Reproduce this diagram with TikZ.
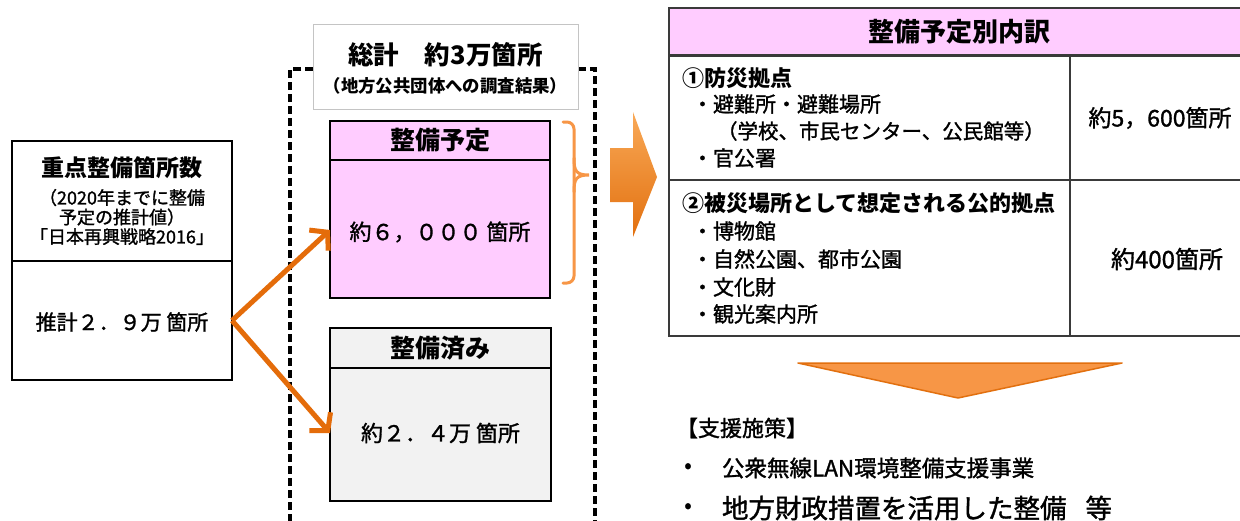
\documentclass[tikz,border=0pt]{standalone}
\usepackage{fontspec}
\setmainfont{Noto Sans CJK JP}
\newfontfamily\medfont{Noto Sans CJK JP}[FakeBold=1.3]
\usetikzlibrary{arrows.meta}
\definecolor{orA}{HTML}{E46C0A}
\definecolor{orB}{HTML}{F79646}
\definecolor{orL}{HTML}{F9A957}
\definecolor{orD}{HTML}{E2700F}
\definecolor{pinkF}{HTML}{FFCCFF}
\definecolor{grayF}{HTML}{F2F2F2}
\definecolor{tblLine}{HTML}{3A3A3A}
\definecolor{titleGray}{HTML}{C4C4C4}
\newcommand\fsz[2]{\fontsize{#1pt}{#2pt}\selectfont}
\begin{document}
\begin{tikzpicture}[x=1pt,y=-1pt,
  box/.style={draw=black,line width=2.6pt,anchor=north west,inner sep=0pt,outer sep=0pt},
  lbox/.style={draw=black,line width=2pt,anchor=north west,inner sep=0pt,outer sep=0pt},
  tcell/.style={draw=tblLine,line width=1.6pt,anchor=north west,inner sep=0pt,outer sep=0pt},
  txt/.style={inner sep=0pt,outer sep=0pt},
  ltxt/.style={inner sep=0pt,outer sep=0pt,anchor=west},
  dashframe/.style={draw=black,line width=3.2pt,dash pattern=on 8pt off 4pt},
  orarrow/.style={draw=orA,line width=5pt,-{Straight Barb[length=12pt,width=28pt]}},
  bracestyle/.style={draw=orB,line width=3pt,line cap=round},
]
\useasboundingbox (0,0) rectangle (1240,520);
\clip (0,0) rectangle (1240,520);
\fill[white] (0,0) rectangle (1240,520);

% dashed frame
\draw[dashframe] (313,69) -- (290,69) -- (290,530);
\draw[dashframe] (578,69) -- (595,69) -- (595,530);

% title box
\node[draw=titleGray,line width=1pt,fill=white,anchor=north west,inner sep=0pt,minimum width=265,minimum height=85] (title) at (313,24) {};
\node[txt,font=\fsz{25.5}{29}\bfseries] (t1) at (445.5,55) {総計　約3万箇所};
\node[txt,font=\fsz{17.4}{20}\bfseries] (t2) at (445.5,86) {（地方公共団体への調査結果）};

% left box
\node[lbox,minimum width=220,minimum height=120] (lt) at (12,141) {};
\node[lbox,minimum width=220,minimum height=119] (lb) at (12,261) {};
\node[txt,font=\fsz{23}{27}\bfseries] (lhead) at (122,168) {重点整備箇所数};
\node[txt,align=center,font=\medfont\fsz{18}{19.5}] (lsub) at (122,217) {（2020年までに整備\\予定の推計値）\\「日本再興戦略2016」};
\node[txt,font=\medfont\fsz{21}{25}] (lnum) at (122,322) {推計２．９万 箇所};

% pink box
\node[box,fill=pinkF,minimum width=220,minimum height=39] (ph) at (330,121) {};
\node[box,fill=pinkF,minimum width=220,minimum height=138] (pb) at (330,160) {};
\node[txt,font=\fsz{25}{29}\bfseries] (phT) at (ph.center) {整備予定};
\node[txt,font=\medfont\fsz{22}{26}] (pbT) at (440,232) {約６，０００ 箇所};

% gray box
\node[box,fill=grayF,minimum width=221,minimum height=40] (gh) at (330,328) {};
\node[box,fill=grayF,minimum width=221,minimum height=133] (gb) at (330,368) {};
\node[txt,font=\fsz{25}{29}\bfseries] (ghT) at (gh.center) {整備済み};
\node[txt,font=\medfont\fsz{22}{26}] (gbT) at (440.5,433) {約２．４万 箇所};

% arrows from left box
\draw[orarrow] (lb.east) -- (pb.west |- 0,230);
\draw[orarrow] (lb.east) -- (gb.west |- 0,433);

% brace
\draw[bracestyle,rounded corners=7pt] (563,122) -- (574,122) -- (574,283) -- (563,283);
\draw[bracestyle] (574,158) .. controls (574,171) and (576,175) .. (589,175) .. controls (576,175) and (574,179) .. (574,192);

% big right arrow
\shade[top color=orL,bottom color=orD] (610,148) -- (633,148) -- (633,112) -- (657,177) -- (633,237) -- (633,202) -- (610,202) -- cycle;

% table
\node[tcell,minimum width=401,minimum height=125] (r1l) at (669,55) {};
\node[tcell,minimum width=180,minimum height=125] (r1r) at (1070,55) {};
\node[tcell,minimum width=401,minimum height=156] (r2l) at (669,180) {};
\node[tcell,minimum width=180,minimum height=156] (r2r) at (1070,180) {};
\node[tcell,fill=pinkF,minimum width=581,minimum height=47] (th) at (669,8) {};
\draw[draw=tblLine,line width=3pt] (th.south west) -- (th.south east);
\node[txt,font=\fsz{26}{30}\bfseries] (thT) at (959.5,32) {整備予定別内訳};

\node[ltxt,font=\fsz{22}{26}\bfseries] (a1) at (682,78) {①防災拠点};
\node[ltxt,font=\medfont\fsz{21}{25}] (a2) at (692,104) {・避難所・避難場所};
\node[ltxt,font=\medfont\fsz{20.5}{25}] (a3) at (717,131) {（学校、市民センター、公民館等）};
\node[ltxt,font=\medfont\fsz{21}{25}] (a4) at (692,158) {・官公署};
\node[ltxt,font=\fsz{22}{26}\bfseries] (b1) at (682,203) {②被災場所として想定される公的拠点};
\node[ltxt,font=\medfont\fsz{21}{25}] (b2) at (692,231) {・博物館};
\node[ltxt,font=\medfont\fsz{21}{25}] (b3) at (692,259) {・自然公園、都市公園};
\node[ltxt,font=\medfont\fsz{21}{25}] (b4) at (692,287) {・文化財};
\node[ltxt,font=\medfont\fsz{21}{25}] (b5) at (692,314) {・観光案内所};
\node[txt,font=\medfont\fsz{23}{27}] (v1) at (1160,118) {約5，600箇所};
\node[txt,font=\medfont\fsz{24}{28}] (v2) at (1167,259) {約400箇所};

% down arrow
\filldraw[fill=orB,draw=orD,line width=1.5pt,line join=round] (798,363) -- (1122,363) -- (958,398) -- cycle;

% bottom text
\node[ltxt,font=\medfont\fsz{22}{26}] (sh) at (676,428) {【支援施策】};
\node[txt,font=\medfont\fsz{22}{26}] (d1) at (688,468) {•};
\node[ltxt,font=\medfont\fsz{22.5}{26}] (s1) at (722,468) {公衆無線LAN環境整備支援事業};
\node[txt,font=\medfont\fsz{22}{26}] (d2) at (688,508) {•};
\node[ltxt,font=\medfont\fsz{26.5}{30}] (s2) at (722,508) {地方財政措置を活用した整備\hspace{19pt}等};
\end{tikzpicture}
\end{document}
